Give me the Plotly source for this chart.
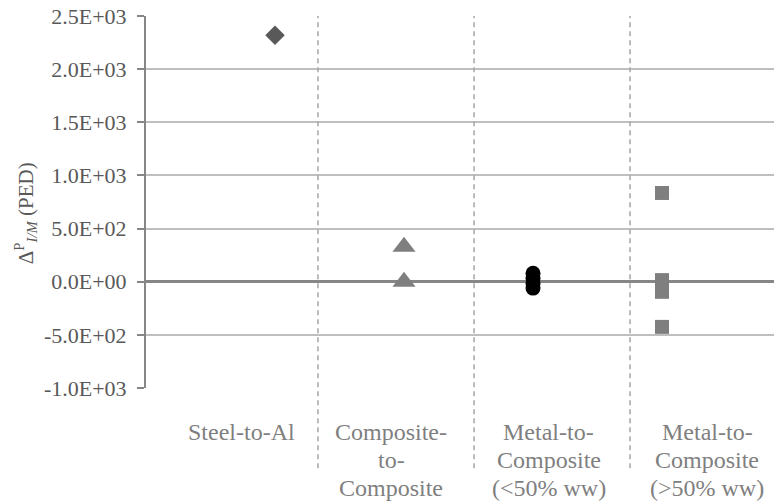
import plotly.graph_objects as go

# Joint categories shown along the bottom (one entry per line of the label)
categories = [["Steel-to-Al"],
              ["Composite-", "to-", "Composite"],
              ["Metal-to-", "Composite", "(<50% ww)"],
              ["Metal-to-", "Composite", "(>50% ww)"]]

# Change in impact per mass (PED) for each joint group
steel_al = [2320]
comp_comp = [330, 0]
metal_comp_lt50 = [80, 30, -20, -60]
metal_comp_gt50 = [835, 15, -40, -95, -425]

# Horizontal position of each group of markers
group_x = [1, 2, 3, 4]

# Layout-only positions: dividers and category label centres (x units)
divider_x = [1.333, 2.543, 3.752]
label_x = [0.74, 1.90, 3.12, 4.35]

y_ticks = [-1000, -500, 0, 500, 1000, 1500, 2000, 2500]
y_ticktext = [f"{v:.1E}" for v in y_ticks]

serif = "Liberation Serif"

series = [
    (steel_al, group_x[0], "diamond", 15, "#595959"),
    (comp_comp, group_x[1], "triangle-up", 20, "#7f7f7f"),
    (metal_comp_lt50, group_x[2], "circle", 15, "#000000"),
    (metal_comp_gt50, group_x[3], "square", 14, "#7f7f7f"),
]

fig = go.Figure()
for vals, gx, sym, size, col in series:
    fig.add_trace(go.Scatter(
        x=[gx] * len(vals), y=vals, mode="markers",
        marker=dict(symbol=sym, size=size, color=col, line=dict(width=0)),
        showlegend=False, hoverinfo="y"))

shapes = []
for dx in divider_x:
    shapes.append(dict(type="line", xref="x", yref="paper", x0=dx, x1=dx,
                       y0=-0.216, y1=1, layer="above",
                       line=dict(color="#a6a6a6", width=1.5, dash="5px,4px")))

annotations = []
for lx, lines in zip(label_x, categories):
    for i, line in enumerate(lines):
        annotations.append(dict(x=lx, y=-0.119, xref="x", yref="paper",
                                yshift=-28 * i, text=line,
                                showarrow=False, xanchor="center",
                                yanchor="middle",
                                font=dict(family=serif, size=24,
                                          color="#7f7f7f")))

annotations.append(dict(x=0, xref="paper", xshift=-121, y=0.47, yref="paper",
                        text="Δ<sup>P</sup><sub><i>I/M</i></sub> (PED)",
                        textangle=-90, showarrow=False,
                        xanchor="center", yanchor="middle",
                        font=dict(family=serif, size=21, color="#595959")))

fig.update_layout(
    width=774, height=501,
    margin=dict(l=146, r=0, t=16, b=113),
    paper_bgcolor="white", plot_bgcolor="white",
    font=dict(family=serif),
    shapes=shapes, annotations=annotations,
    xaxis=dict(range=[0, 4.868], showgrid=False, zeroline=False,
               showticklabels=False, showline=False, ticks=""),
    yaxis=dict(range=[-1000, 2500], tickvals=y_ticks, ticktext=y_ticktext,
               showgrid=True, gridcolor="#bfbfbf", gridwidth=1.5,
               zeroline=True, zerolinecolor="#868686", zerolinewidth=2.5,
               showline=True, linecolor="#868686", linewidth=2,
               ticks="outside", ticklen=7, tickcolor="#868686", tickwidth=1.5,
               ticklabelstandoff=6,
               tickfont=dict(family=serif, size=22, color="#595959")),
)

fig.write_html("out.html")
